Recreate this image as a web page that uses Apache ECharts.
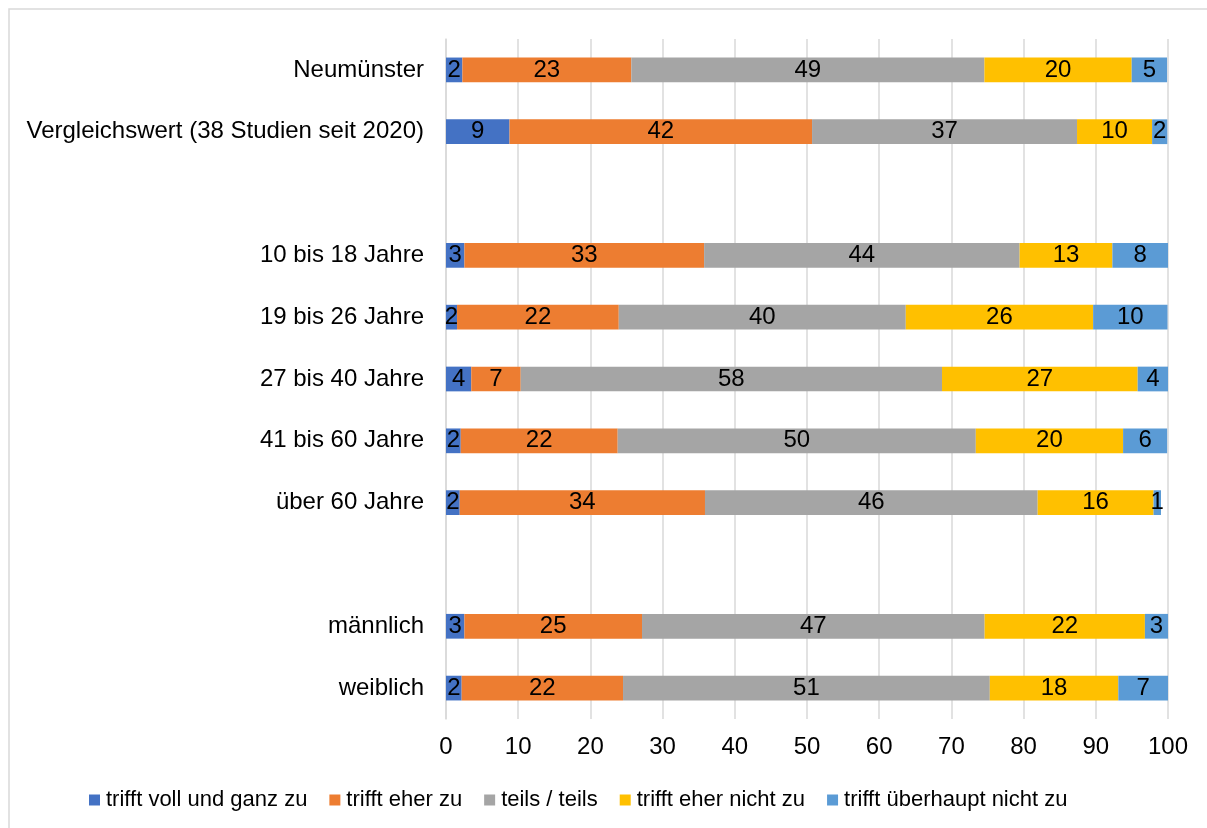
<!DOCTYPE html>
<html>
<head>
<meta charset="utf-8">
<script src="https://cdn.jsdelivr.net/npm/echarts@6/dist/echarts.min.js"></script>
<style>
  html, body { margin: 0; padding: 0; background: #fff; }
  #chart { width: 1207px; height: 828px; }
</style>
</head>
<body>
<div id="chart"></div>
<script>
// Kategorien (leere Einträge = Abstandszeilen)
const categories = [
  'Neumünster',
  'Vergleichswert (38 Studien seit 2020)',
  '',
  '10 bis 18 Jahre',
  '19 bis 26 Jahre',
  '27 bis 40 Jahre',
  '41 bis 60 Jahre',
  'über 60 Jahre',
  ' ',
  'männlich',
  'weiblich'
]

const seriesNames = [
  'trifft voll und ganz zu',
  'trifft eher zu',
  'teils / teils',
  'trifft eher nicht zu',
  'trifft überhaupt nicht zu'
]

// Anteile in %
const vollUndGanz = [2.27, 8.8, null, 2.55, 1.53, 3.5, 2.04, 1.9, null, 2.55, 2.17]
const eherZu = [23.4, 41.9, null, 33.2, 22.4, 6.85, 21.74, 33.97, null, 24.6, 22.35]
const teilsTeils = [48.9, 36.7, null, 43.7, 39.75, 58.35, 49.6, 46.08, null, 47.45, 50.8]
const eherNicht = [20.4, 10.4, null, 12.85, 25.95, 27.1, 20.4, 16.05, null, 22.2, 17.8]
const ueberhauptNicht = [4.9, 2.1, null, 7.7, 10.3, 4.2, 6.1, 1.03, null, 3.2, 6.9]

const xTicks = [0, 10, 20, 30, 40, 50, 60, 70, 80, 90, 100]

const colors = ['#4472C4', '#ED7D31', '#A5A5A5', '#FFC000', '#5B9BD5']
const values = [vollUndGanz, eherZu, teilsTeils, eherNicht, ueberhauptNicht]
const fontFamily = '"Liberation Sans", Arial, sans-serif'

const chart = echarts.init(document.getElementById('chart'))
chart.setOption({
  animation: false,
  textStyle: { fontFamily: fontFamily },
  graphic: [
    {
      type: 'rect',
      shape: { x: 9, y: 9, width: 1400, height: 1000 },
      style: { fill: 'none', stroke: '#d9d9d9', lineWidth: 1.5 },
      silent: true
    }
  ],
  legend: {
    left: 84,
    top: 784,
    itemWidth: 11,
    itemHeight: 11,
    itemGap: 22,
    icon: 'rect',
    textStyle: { fontSize: 22, color: '#000', fontFamily: fontFamily, padding: [0, 0, 0, 1] },
    data: seriesNames
  },
  grid: {
    left: 446,
    right: 39,
    top: 39,
    bottom: 109,
    containLabel: false
  },
  xAxis: {
    type: 'value',
    min: xTicks[0],
    max: xTicks[xTicks.length - 1],
    interval: 10,
    axisLine: { show: false },
    axisTick: { show: false },
    axisLabel: { fontSize: 24, color: '#000', margin: 16 },
    splitLine: { show: true, lineStyle: { color: '#d9d9d9', width: 1.5 } }
  },
  yAxis: {
    type: 'category',
    inverse: true,
    data: categories,
    axisLine: { show: true, lineStyle: { color: '#d9d9d9', width: 1.5 } },
    axisTick: { show: false },
    axisLabel: { fontSize: 24, color: '#000', margin: 22 }
  },
  series: seriesNames.map((name, i) => ({
    name: name,
    type: 'bar',
    stack: 'total',
    barCategoryGap: '60%',
    itemStyle: { color: colors[i] },
    label: {
      show: true,
      position: 'inside',
      fontSize: 24,
      color: '#000',
      formatter: p => (p.value == null ? '' : Math.round(p.value))
    },
    data: values[i]
  }))
})
</script>
</body>
</html>
